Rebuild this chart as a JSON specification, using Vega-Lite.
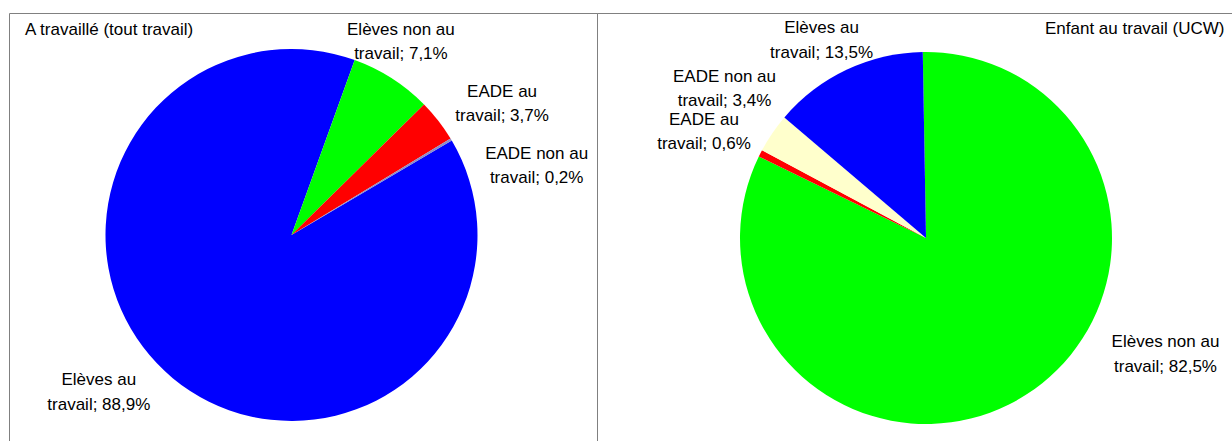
{
  "$schema": "https://vega.github.io/schema/vega-lite/v6.json",
  "padding": {"left": 8, "top": 12, "right": 0, "bottom": 0},
  "spacing": 0,
  "bounds": "flush",
  "background": "white",
  "config": {
    "view": {"stroke": "#808080", "strokeWidth": 1},
    "style": {"cell": {"stroke": "#808080", "strokeWidth": 1}},
    "font": "Liberation Sans",
    "text": {"font": "Liberation Sans", "fontSize": 17, "lineHeight": 24.5, "lineBreak": "\n", "color": "#000000", "align": "center", "baseline": "middle"}
  },
  "datasets": {
    "left": [
      {"cat": "Elèves au travail", "value": 88.9, "rank": 1, "label": "Elèves au\ntravail; 88,9%"},
      {"cat": "Elèves non au travail", "value": 7.1, "rank": 2, "label": "Elèves non au\ntravail; 7,1%"},
      {"cat": "EADE au travail", "value": 3.7, "rank": 3, "label": "EADE au\ntravail; 3,7%"},
      {"cat": "EADE non au travail", "value": 0.2, "rank": 4, "label": "EADE non au\ntravail; 0,2%"}
    ],
    "right": [
      {"cat": "Elèves non au travail", "value": 82.5, "rank": 1, "label": "Elèves non au\ntravail; 82,5%"},
      {"cat": "EADE au travail", "value": 0.6, "rank": 2, "label": "EADE au\ntravail; 0,6%"},
      {"cat": "EADE non au travail", "value": 3.4, "rank": 3, "label": "EADE non au\ntravail; 3,4%"},
      {"cat": "Elèves au travail", "value": 13.5, "rank": 4, "label": "Elèves au\ntravail; 13,5%"}
    ]
  },
  "resolve": {"scale": {"color": "independent", "theta": "independent"}},
  "hconcat": [
    {
      "width": 588,
      "height": 430,
      "view": {"stroke": "#808080", "strokeWidth": 1},
      "data": {"name": "left"},
      "layer": [
        {
          "mark": {"type": "arc", "outerRadius": 186, "x": 282.5, "y": 222},
          "encoding": {
            "theta": {"field": "value", "type": "quantitative", "stack": true, "scale": {"range": [1.0385, 7.3217]}},
            "order": {"field": "rank", "type": "quantitative"},
            "color": {"field": "cat", "type": "nominal", "legend": null,
              "scale": {"domain": ["Elèves au travail", "Elèves non au travail", "EADE au travail", "EADE non au travail"], "range": ["#0000FF", "#00FF00", "#FF0000", "#8C8CC8"]}}
          }
        },
        {
          "data": {"values": [{"t": "A travaillé (tout travail)"}]},
          "mark": {"type": "text", "align": "left", "x": 16, "y": 16.5},
          "encoding": {"text": {"field": "t", "type": "nominal"}}
        },
        {
          "mark": {"type": "text", "clip": true, "radius": 225, "x": 282.5, "y": 222, "dx": -49, "dy": -28},
          "encoding": {"theta": {"field": "value", "type": "quantitative", "stack": true, "scale": {"range": [1.0385, 7.3217]}}, "order": {"field": "rank", "type": "quantitative"}, "detail": {"field": "cat"}, "text": {"condition": {"test": "datum.cat === 'Elèves au travail'", "field": "label", "type": "nominal"}, "value": ""}}
        },
        {
          "mark": {"type": "text", "clip": true, "radius": 225, "x": 282.5, "y": 222, "dx": -12, "dy": -16},
          "encoding": {"theta": {"field": "value", "type": "quantitative", "stack": true, "scale": {"range": [1.0385, 7.3217]}}, "order": {"field": "rank", "type": "quantitative"}, "detail": {"field": "cat"}, "text": {"condition": {"test": "datum.cat === 'Elèves non au travail'", "field": "label", "type": "nominal"}, "value": ""}}
        },
        {
          "mark": {"type": "text", "clip": true, "radius": 225, "x": 282.5, "y": 222, "dx": 33, "dy": -5},
          "encoding": {"theta": {"field": "value", "type": "quantitative", "stack": true, "scale": {"range": [1.0385, 7.3217]}}, "order": {"field": "rank", "type": "quantitative"}, "detail": {"field": "cat"}, "text": {"condition": {"test": "datum.cat === 'EADE au travail'", "field": "label", "type": "nominal"}, "value": ""}}
        },
        {
          "mark": {"type": "text", "clip": true, "radius": 225, "x": 282.5, "y": 222, "dx": 52, "dy": 34},
          "encoding": {"theta": {"field": "value", "type": "quantitative", "stack": true, "scale": {"range": [1.0385, 7.3217]}}, "order": {"field": "rank", "type": "quantitative"}, "detail": {"field": "cat"}, "text": {"condition": {"test": "datum.cat === 'EADE non au travail'", "field": "label", "type": "nominal"}, "value": ""}}
        }
      ]
    },
    {
      "width": 636,
      "height": 430,
      "view": {"stroke": "#808080", "strokeWidth": 1},
      "data": {"name": "right"},
      "layer": [
        {
          "mark": {"type": "arc", "outerRadius": 186, "x": 329, "y": 225},
          "encoding": {
            "theta": {"field": "value", "type": "quantitative", "stack": true, "scale": {"range": [-0.01745, 6.26573]}},
            "order": {"field": "rank", "type": "quantitative"},
            "color": {"field": "cat", "type": "nominal", "legend": null,
              "scale": {"domain": ["Elèves au travail", "Elèves non au travail", "EADE au travail", "EADE non au travail"], "range": ["#0000FF", "#00FF00", "#FF0000", "#FFFFCC"]}}
          }
        },
        {
          "data": {"values": [{"t": "Enfant au travail (UCW)"}]},
          "mark": {"type": "text", "align": "right", "x": 627.5, "y": 16},
          "encoding": {"text": {"field": "t", "type": "nominal"}}
        },
        {
          "mark": {"type": "text", "clip": true, "radius": 225, "x": 329, "y": 225, "dx": 118.6, "dy": -85.6},
          "encoding": {"theta": {"field": "value", "type": "quantitative", "stack": true, "scale": {"range": [-0.01745, 6.26573]}}, "order": {"field": "rank", "type": "quantitative"}, "detail": {"field": "cat"}, "text": {"condition": {"test": "datum.cat === 'Elèves non au travail'", "field": "label", "type": "nominal"}, "value": ""}}
        },
        {
          "mark": {"type": "text", "clip": true, "radius": 225, "x": 329, "y": 225, "dx": -21.7, "dy": -15.7},
          "encoding": {"theta": {"field": "value", "type": "quantitative", "stack": true, "scale": {"range": [-0.01745, 6.26573]}}, "order": {"field": "rank", "type": "quantitative"}, "detail": {"field": "cat"}, "text": {"condition": {"test": "datum.cat === 'EADE au travail'", "field": "label", "type": "nominal"}, "value": ""}}
        },
        {
          "mark": {"type": "text", "clip": true, "radius": 225, "x": 329, "y": 225, "dx": -15.6, "dy": -34.5},
          "encoding": {"theta": {"field": "value", "type": "quantitative", "stack": true, "scale": {"range": [-0.01745, 6.26573]}}, "order": {"field": "rank", "type": "quantitative"}, "detail": {"field": "cat"}, "text": {"condition": {"test": "datum.cat === 'EADE non au travail'", "field": "label", "type": "nominal"}, "value": ""}}
        },
        {
          "mark": {"type": "text", "clip": true, "radius": 225, "x": 329, "y": 225, "dx": -8.3, "dy": -6.3},
          "encoding": {"theta": {"field": "value", "type": "quantitative", "stack": true, "scale": {"range": [-0.01745, 6.26573]}}, "order": {"field": "rank", "type": "quantitative"}, "detail": {"field": "cat"}, "text": {"condition": {"test": "datum.cat === 'Elèves au travail'", "field": "label", "type": "nominal"}, "value": ""}}
        }
      ]
    }
  ]
}
